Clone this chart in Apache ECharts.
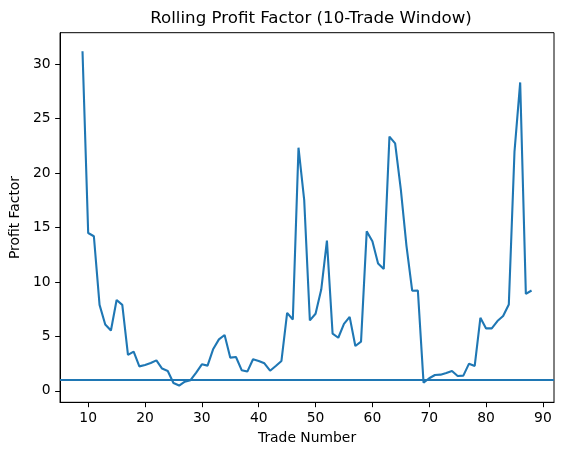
<!DOCTYPE html>
<html>
<head>
<meta charset="utf-8">
<script src="https://cdn.jsdelivr.net/npm/echarts@6/dist/echarts.min.js"></script>
<style>
html,body{margin:0;padding:0;background:#fff;}
#c{width:562px;height:455px;}
</style>
</head>
<body>
<div id="c"></div>
<script>
const trades = [9,10,11,12,13,14,15,16,17,18,19,20,21,22,23,24,25,26,27,28,29,30,31,32,33,34,35,36,37,38,39,40,41,42,43,44,45,46,47,48,49,50,51,52,53,54,55,56,57,58,59,60,61,62,63,64,65,66,67,68,69,70,71,72,73,74,75,76,77,78,79,80,81,82,83,84,85,86,87,88];
const profitFactor = [31.2,14.5,14.2,7.9,6.1,5.55,8.35,7.9,3.3,3.6,2.25,2.38,2.56,2.8,2.05,1.83,0.72,0.49,0.85,0.98,1.68,2.44,2.32,3.85,4.73,5.13,3.05,3.11,1.9,1.77,2.9,2.75,2.53,1.85,2.29,2.75,7.17,6.56,22.34,17.55,6.47,7.08,9.31,13.8,5.25,4.88,6.16,6.8,4.12,4.52,14.65,13.75,11.7,11.2,23.35,22.74,18.5,13.3,9.2,9.22,0.76,1.16,1.46,1.49,1.65,1.83,1.37,1.4,2.5,2.29,6.71,5.74,5.74,6.41,6.87,7.94,21.98,28.33,8.91,9.22];
const threshold = 1;
const xTicks = [10,20,30,40,50,60,70,80,90];
const yTicks = [0,5,10,15,20,25,30];

const color = '#1f77b4';
const font = 'DejaVu Sans';
const chart = echarts.init(document.getElementById('c'), null, {renderer:'canvas'});
chart.setOption({
  animation:false,
  backgroundColor:'#fff',
  title:{
    text:'Rolling Profit Factor (10-Trade Window)',
    left: 306, top: 5, textAlign:'center',
    textStyle:{fontFamily:font,fontSize:16.67,fontWeight:'normal',color:'#000'}
  },
  grid:{left:57.7,right:8,top:32.7,bottom:52.7,show:true,borderColor:'#000',borderWidth:1,backgroundColor:'transparent',containLabel:false},
  xAxis:{
    type:'value', min:5.05, max:91.95,
    name:'Trade Number', nameLocation:'middle', nameGap:29,
    nameTextStyle:{fontFamily:font,fontSize:13.89,color:'#000'},
    axisLine:{show:true,onZero:false,lineStyle:{color:'#000',width:1}},
    axisTick:{show:true,length:4.9,inside:false,customValues:xTicks,lineStyle:{color:'#000',width:1}},
    axisLabel:{show:true,margin:9.5,customValues:xTicks,fontFamily:font,fontSize:13.89,color:'#000'},
    splitLine:{show:false}
  },
  yAxis:{
    type:'value', min:-1.05, max:32.9,
    name:'Profit Factor', nameLocation:'middle', nameGap:34, nameRotate:90,
    nameTextStyle:{fontFamily:font,fontSize:13.89,color:'#000'},
    axisLine:{show:true,onZero:false,lineStyle:{color:'#000',width:1}},
    axisTick:{show:true,length:4.9,inside:false,customValues:yTicks,lineStyle:{color:'#000',width:1}},
    axisLabel:{show:true,margin:9.5,customValues:yTicks,fontFamily:font,fontSize:13.89,color:'#000'},
    splitLine:{show:false}
  },
  series:[{
    type:'line',
    data: trades.map((t,i)=>[t,profitFactor[i]]),
    showSymbol:false, symbol:'none',
    lineStyle:{color:color,width:2.1},
    itemStyle:{color:color},
    markLine:{
      silent:true, symbol:['none','none'], label:{show:false},
      lineStyle:{color:color,width:2.1,type:'solid'},
      data:[{yAxis:threshold}]
    }
  }]
});
</script>
</body>
</html>
